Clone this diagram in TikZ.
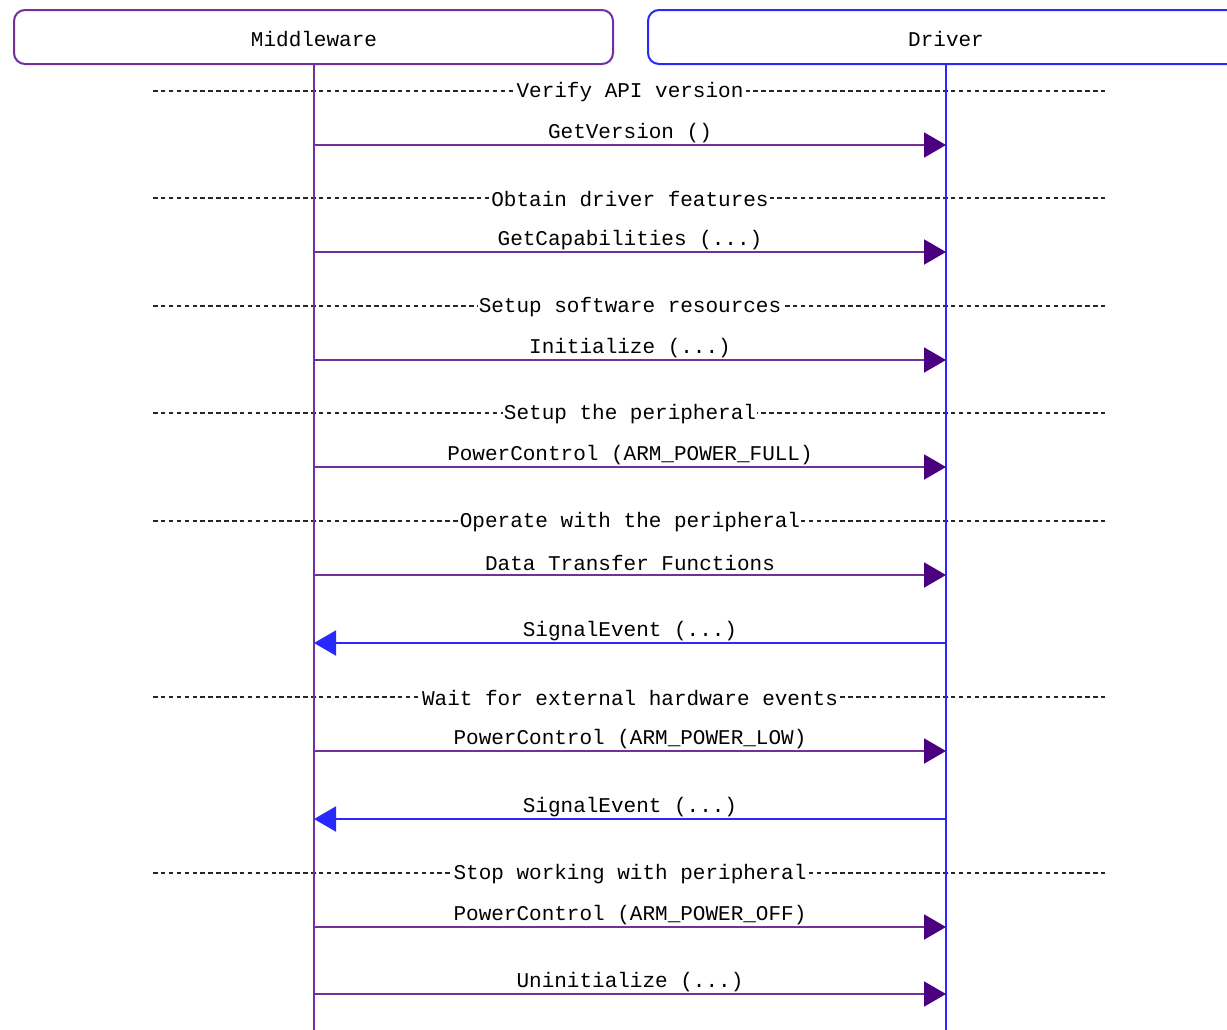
\documentclass[tikz,border=0pt]{standalone}
\usepackage{fontspec}
\setmonofont{Liberation Mono}
\usetikzlibrary{arrows.meta}
\definecolor{mwpurple}{RGB}{112,48,160}
\definecolor{drvblue}{RGB}{40,40,255}
\definecolor{headpurple}{RGB}{75,0,130}
\tikzset{
  x=1pt, y=-1pt,
  lbl/.style={font=\ttfamily\fontsize{21}{24}\selectfont, inner sep=1pt},
  lifeline/.style={line width=2pt},
  sepline/.style={black!85, line width=1.8pt, dash pattern=on 4.5pt off 3.4pt},
  seplabel/.style={lbl, fill=white, inner xsep=1pt},
  callmsg/.style={mwpurple, line width=2pt, -{Triangle[length=22pt,width=25pt,color=headpurple]}},
  backmsg/.style={drvblue, line width=2pt, -{Triangle[length=22pt,width=25pt]}},
}
% a call arrow from the middleware lifeline to the driver lifeline
\newcommand\callmessage[3]{%
  \coordinate (cm#1) at (314,#2);
  \coordinate (cd#1) at (946,#2);
  \draw[callmsg] (cm#1) -- (cd#1);
  \node[lbl] (call#1) at (630,#2-12) {#3};
}
% an event arrow from the driver lifeline back to the middleware lifeline
\newcommand\eventmessage[3]{%
  \coordinate (ed#1) at (946,#2);
  \coordinate (em#1) at (314,#2);
  \draw[backmsg] (ed#1) -- (em#1);
  \node[lbl] (evt#1) at (630,#2-12) {#3};
}
% a dashed section separator with its caption
\newcommand\sectionsep[3]{%
  \coordinate (sl#1) at (153,#2);
  \coordinate (sr#1) at (1105,#2);
  \draw[sepline] (sl#1) -- (sr#1);
  \node[seplabel] (sep#1) at (630,#2+1.5) {#3};
}
\begin{document}
\begin{tikzpicture}
\useasboundingbox (0,0) rectangle (1227,1029);
\fill[white] (0,0) rectangle (1227,1029);

% participants
\draw[mwpurple, line width=2pt, rounded corners=11pt] (14,10) rectangle (613,64);
\node[lbl] (mw) at (314,39) {Middleware};
\draw[drvblue, line width=2pt, rounded corners=11pt] (648,10) rectangle (1260,64);
\node[lbl] (drv) at (946,39) {Driver};

\coordinate (mwtop) at (314,64);
\coordinate (mwbot) at (314,1032);
\coordinate (drvtop) at (946,64);
\coordinate (drvbot) at (946,1032);

% section separators
\sectionsep{1}{91}{Verify API version}
\sectionsep{2}{198}{Obtain driver features}
\sectionsep{3}{306}{Setup software resources}
\sectionsep{4}{413}{Setup the peripheral}
\sectionsep{5}{521}{Operate with the peripheral}
\sectionsep{6}{697}{Wait for external hardware events}
\sectionsep{7}{873}{Stop working with peripheral}

% lifelines
\draw[lifeline, mwpurple] (mwtop) -- (mwbot);
\draw[lifeline, drvblue] (drvtop) -- (drvbot);

% messages
\callmessage{1}{145}{GetVersion ()}
\callmessage{2}{252}{GetCapabilities (...)}
\callmessage{3}{360}{Initialize (...)}
\callmessage{4}{467}{PowerControl (ARM\_POWER\_FULL)}
\callmessage{5}{575}{Data Transfer Functions}
\eventmessage{1}{643}{SignalEvent (...)}
\callmessage{6}{751}{PowerControl (ARM\_POWER\_LOW)}
\eventmessage{2}{819}{SignalEvent (...)}
\callmessage{7}{927}{PowerControl (ARM\_POWER\_OFF)}
\callmessage{8}{994}{Uninitialize (...)}
\end{tikzpicture}
\end{document}
